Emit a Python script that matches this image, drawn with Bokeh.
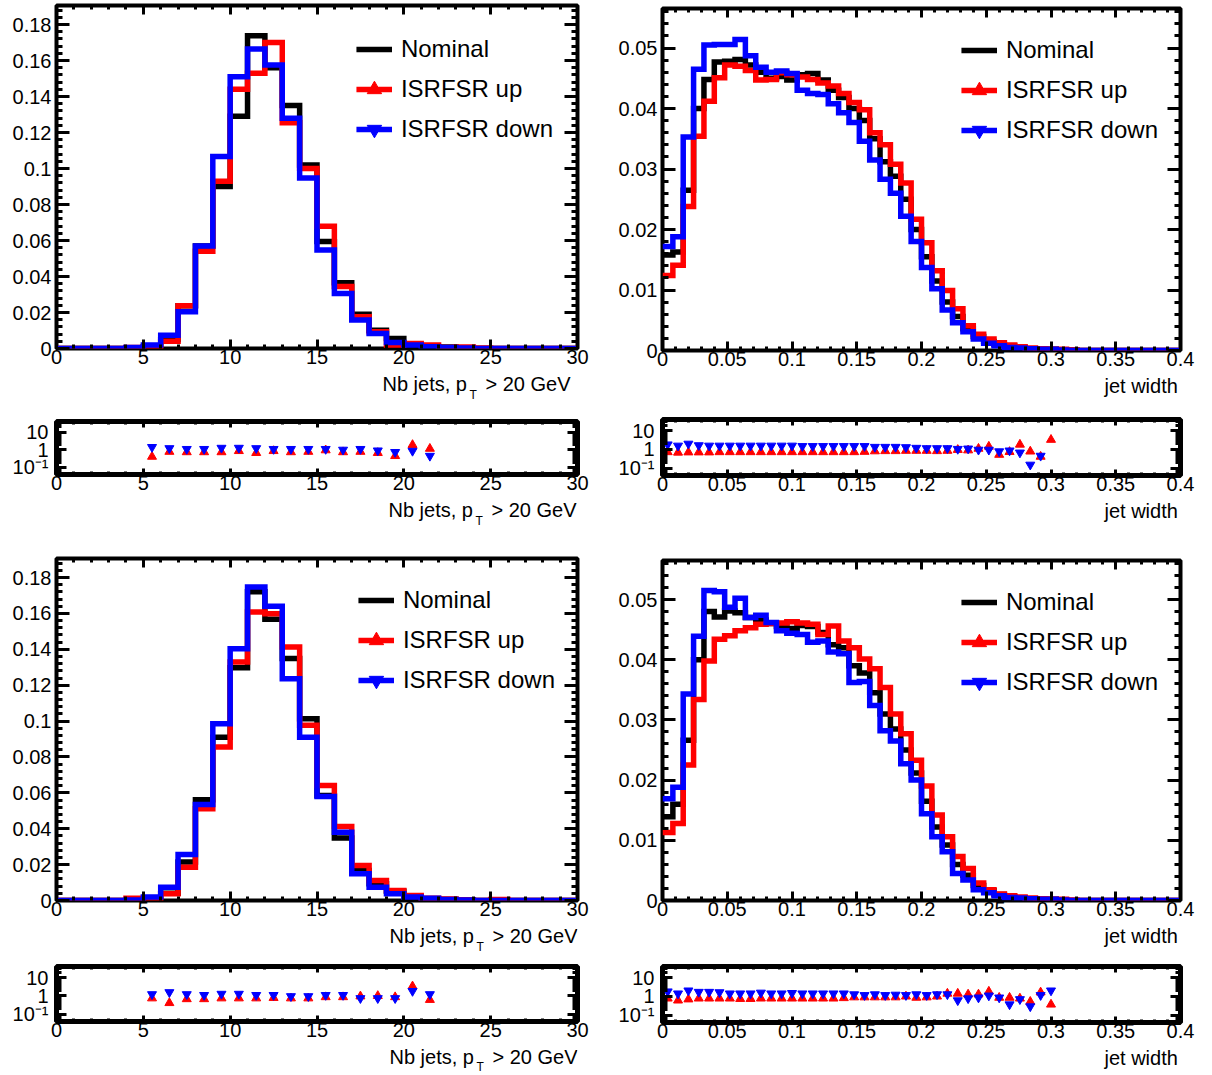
import math
from bokeh.plotting import figure
from bokeh.models import Range1d, FixedTicker, LinearAxis, LogAxis, Legend, LegendItem, Label
from bokeh.layouts import column, row
from bokeh.embed import file_html
from bokeh.resources import INLINE

# ---------------- data ----------------
nb_edges = list(range(0, 31))
width_edges = [round(i * 0.008, 3) for i in range(51)]

# top-left: number of jets
tl_nominal = [0, 0, 0, 0, 0.0003, 0.0010, 0.0050, 0.0238, 0.0570, 0.0900, 0.1290, 0.1738, 0.1560, 0.1350, 0.1019,
              0.0595, 0.0366, 0.0190, 0.0102, 0.0056, 0.0019, 0.0010, 0.0008, 0.0003, 0, 0, 0, 0, 0, 0]
tl_up = [0, 0, 0, 0, 0.0005, 0.0008, 0.0040, 0.0238, 0.0540, 0.0930, 0.1440, 0.1530, 0.1700, 0.1255, 0.1000,
         0.0680, 0.0344, 0.0177, 0.0093, 0.0019, 0.0028, 0.0020, 0.0005, 0.0008, 0.0003, 0, 0, 0, 0, 0]
tl_down = [0, 0, 0, 0, 0.0005, 0.0020, 0.0074, 0.0204, 0.0570, 0.1067, 0.1510, 0.1664, 0.1576, 0.1280, 0.0948,
           0.0548, 0.0305, 0.0158, 0.0084, 0.0033, 0.0020, 0.0010, 0.0005, 0.0003, 0, 0, 0, 0, 0, 0]

# top-right: jet width
tr_nominal = [0.0158, 0.0163, 0.0265, 0.0400, 0.0448, 0.0477, 0.0478, 0.0481, 0.0472, 0.0460,
              0.0450, 0.0453, 0.0447, 0.0456, 0.0458, 0.0447, 0.0430, 0.0418, 0.0400, 0.0380,
              0.0350, 0.0312, 0.0288, 0.0250, 0.0200, 0.0155, 0.0115, 0.0080, 0.0056, 0.0036,
              0.0023, 0.0015, 0.0010, 0.0007, 0.0005, 0.0003, 0.0002, 0.0002, 0.0001, 0.0001,
              0, 0, 0, 0, 0, 0, 0, 0, 0, 0]
tr_up = [0.0124, 0.0141, 0.0238, 0.0354, 0.0412, 0.0451, 0.0472, 0.0470, 0.0463, 0.0447,
         0.0448, 0.0459, 0.0456, 0.0452, 0.0448, 0.0442, 0.0437, 0.0425, 0.0410, 0.0398,
         0.0360, 0.0340, 0.0308, 0.0277, 0.0217, 0.0178, 0.0132, 0.0099, 0.0069, 0.0041,
         0.0027, 0.0019, 0.0013, 0.0009, 0.0006, 0.0004, 0.0003, 0.0002, 0.0002, 0.0001,
         0, 0, 0, 0, 0, 0, 0, 0, 0, 0]
tr_down = [0.0172, 0.0188, 0.0353, 0.0465, 0.0505, 0.0506, 0.0506, 0.0514, 0.0487, 0.0468,
           0.0460, 0.0462, 0.0458, 0.0430, 0.0425, 0.0423, 0.0408, 0.0393, 0.0377, 0.0346,
           0.0315, 0.0283, 0.0260, 0.0222, 0.0180, 0.0137, 0.0102, 0.0067, 0.0046, 0.0031,
           0.0019, 0.0012, 0.0008, 0.0005, 0.0004, 0.0003, 0.0002, 0.0002, 0.0001, 0,
           0, 0, 0, 0, 0, 0, 0, 0, 0, 0]

# bottom-left: number of jets
bl_nominal = [0, 0, 0, 0, 0.0002, 0.0005, 0.0040, 0.0214, 0.0561, 0.0910, 0.1297, 0.1720, 0.1567, 0.1348, 0.1013,
              0.0585, 0.0349, 0.0167, 0.0093, 0.0052, 0.0019, 0.0010, 0.0005, 0.0002, 0, 0, 0, 0, 0, 0]
bl_up = [0, 0, 0, 0, 0.0013, 0.0008, 0.0037, 0.0186, 0.0511, 0.0855, 0.1329, 0.1608, 0.1598, 0.1413, 0.0976,
         0.0641, 0.0413, 0.0195, 0.0112, 0.0056, 0.0028, 0.0013, 0.0008, 0.0004, 0, 0.0005, 0, 0, 0, 0]
bl_down = [0, 0, 0, 0, 0.0003, 0.0020, 0.0074, 0.0257, 0.0535, 0.0985, 0.1403, 0.1747, 0.1640, 0.1236, 0.0910,
           0.0580, 0.0381, 0.0149, 0.0074, 0.0037, 0.0019, 0.0012, 0.0006, 0.0003, 0, 0, 0, 0, 0, 0]

# bottom-right: jet width
br_nominal = [0.0139, 0.0160, 0.0266, 0.0400, 0.0480, 0.0471, 0.0481, 0.0478, 0.0470, 0.0466,
              0.0460, 0.0455, 0.0452, 0.0457, 0.0455, 0.0445, 0.0425, 0.0420, 0.0390, 0.0378,
              0.0345, 0.0310, 0.0285, 0.0250, 0.0212, 0.0165, 0.0122, 0.0092, 0.0060, 0.0042,
              0.0025, 0.0016, 0.0010, 0.0006, 0.0004, 0.0003, 0.0002, 0.0002, 0.0001, 0,
              0, 0, 0, 0, 0, 0, 0, 0, 0, 0]
br_up = [0.0113, 0.0128, 0.0225, 0.0334, 0.0398, 0.0434, 0.0440, 0.0448, 0.0453, 0.0459,
         0.0460, 0.0461, 0.0463, 0.0461, 0.0459, 0.0442, 0.0456, 0.0431, 0.0420, 0.0401,
         0.0385, 0.0354, 0.0310, 0.0277, 0.0233, 0.0190, 0.0142, 0.0106, 0.0073, 0.0053,
         0.0029, 0.0018, 0.0011, 0.0008, 0.0006, 0.0004, 0.0003, 0.0002, 0.0002, 0.0001,
         0, 0, 0, 0, 0, 0, 0, 0, 0, 0]
br_down = [0.0169, 0.0188, 0.0343, 0.0439, 0.0515, 0.0513, 0.0487, 0.0502, 0.0470, 0.0474,
           0.0462, 0.0448, 0.0444, 0.0442, 0.0429, 0.0431, 0.0413, 0.0410, 0.0362, 0.0364,
           0.0324, 0.0282, 0.0265, 0.0227, 0.0200, 0.0144, 0.0106, 0.0081, 0.0045, 0.0034,
           0.0018, 0.0013, 0.0008, 0.0005, 0.0004, 0.0003, 0.0002, 0.0002, 0.0001, 0,
           0, 0, 0, 0, 0, 0, 0, 0, 0, 0]

# ratio panels
nb_ratio_x = [5.5, 6.5, 7.5, 8.5, 9.5, 10.5, 11.5, 12.5, 13.5, 14.5, 15.5, 16.5, 17.5, 18.5, 19.5, 20.5, 21.5]
tl_ratio_up = [0.41, 0.78, 0.74, 0.74, 0.74, 0.86, 0.67, 0.86, 0.74, 0.78, 0.95, 0.74, 0.78, 0.67, 0.45, 1.9, 1.16]
tl_ratio_down = [1.42, 1.22, 1.10, 1.10, 1.28, 1.28, 1.22, 1.10, 1.10, 1.10, 1.10, 1.0, 1.10, 0.905, 0.74, 0.86, 0.45]
bl_ratio_up = [0.74, 0.41, 0.67, 0.67, 0.74, 0.74, 0.74, 0.78, 0.74, 0.74, 0.86, 0.86, 0.95, 1.0, 0.86, 3.33, 0.61]
bl_ratio_down = [1.22, 1.57, 1.22, 1.10, 1.28, 1.28, 1.10, 1.10, 0.95, 0.95, 1.10, 1.10, 0.74, 0.74, 0.74, 1.82, 1.22]

width_ratio_x = [0.004, 0.012, 0.020, 0.028, 0.036, 0.044, 0.052, 0.060, 0.068, 0.076,
                 0.084, 0.092, 0.100, 0.108, 0.116, 0.124, 0.132, 0.140, 0.148, 0.156,
                 0.164, 0.172, 0.180, 0.188, 0.196, 0.204, 0.212, 0.220, 0.228, 0.236,
                 0.244, 0.252, 0.260, 0.268, 0.276, 0.284, 0.292, 0.300]
tr_ratio_up = [0.72, 0.68, 0.70, 0.70, 0.70, 0.72, 0.72, 0.72, 0.72, 0.72,
               0.72, 0.72, 0.72, 0.72, 0.72, 0.72, 0.72, 0.72, 0.72, 0.75,
               0.80, 0.82, 0.82, 0.85, 0.85, 0.85, 0.82, 0.85, 0.95, 0.90,
               1.10, 1.42, 0.52, 0.74, 1.82, 0.78, 0.41, 3.3]
tr_ratio_down = [1.82, 1.57, 2.0, 1.65, 1.57, 1.57, 1.57, 1.57, 1.57, 1.57,
                 1.57, 1.57, 1.57, 1.49, 1.49, 1.49, 1.49, 1.49, 1.49, 1.49,
                 1.35, 1.35, 1.35, 1.30, 1.20, 1.15, 1.15, 1.15, 1.05, 1.10,
                 0.95, 0.95, 0.78, 0.86, 0.67, 0.15, 0.45]
br_ratio_up = [0.78, 0.61, 0.70, 0.78, 0.78, 0.78, 0.78, 0.74, 0.74, 0.78,
               0.78, 0.78, 0.78, 0.78, 0.78, 0.78, 0.78, 0.82, 0.90, 0.90,
               0.90, 0.90, 0.90, 1.0, 0.86, 0.90, 1.0, 1.42, 1.42, 1.28,
               1.28, 1.82, 0.86, 0.86, 0.78, 0.52, 1.65, 0.37]
br_ratio_down = [1.82, 1.42, 2.05, 1.73, 1.73, 1.65, 1.42, 1.42, 1.42, 1.57,
                 1.42, 1.42, 1.50, 1.42, 1.42, 1.42, 1.42, 1.42, 1.28, 1.16,
                 1.28, 1.16, 1.22, 1.16, 1.28, 1.16, 1.28, 1.28, 0.61, 0.78,
                 0.86, 1.10, 0.86, 0.37, 0.70, 0.29, 1.16, 2.05]

# ticks and labels
nb_x_ticks = [0, 5, 10, 15, 20, 25, 30]
nb_x_labels = ["0", "5", "10", "15", "20", "25", "30"]
width_x_ticks = [0, 0.05, 0.1, 0.15, 0.2, 0.25, 0.3, 0.35, 0.4]
width_x_labels = ["0", "0.05", "0.1", "0.15", "0.2", "0.25", "0.3", "0.35", "0.4"]
nb_y_ticks = [0, 0.02, 0.04, 0.06, 0.08, 0.1, 0.12, 0.14, 0.16, 0.18]
nb_y_labels = ["0", "0.02", "0.04", "0.06", "0.08", "0.1", "0.12", "0.14", "0.16", "0.18"]
width_y_ticks = [0, 0.01, 0.02, 0.03, 0.04, 0.05]
width_y_labels = ["0", "0.01", "0.02", "0.03", "0.04", "0.05"]
ratio_y_ticks = [0.1, 1, 10]
ratio_y_labels = ["10\u207b\u00b9", "1", "10"]

legend_labels = ["Nominal", "ISRFSR up", "ISRFSR down"]
nb_title = ["Nb jets, p", "T", "> 20 GeV"]
width_title = "jet width"

# minor tick positions (styling)
nb_x_minor = list(range(0, 31))
width_x_minor = [round(i * 0.01, 2) for i in range(41)]
nb_y_minor = [round(i * 0.004, 3) for i in range(48)]
width_y_minor = [round(i * 0.002, 3) for i in range(29)]
ratio_minor = [k * 10.0 ** e for e in (-2, -1, 0, 1) for k in range(2, 10)]

FONT = "Liberation Sans"
RED = "#ff0000"
BLUE = "#0000ff"
BLACK = "#000000"

# column geometry: every plot in a column shares the same side borders
LW, RW = 606, 604
L_LEFT, L_RIGHT = 56, 29      # left column frame: x 56 .. 577
R_LEFT, R_RIGHT = 56, 30      # right column frame: x 606+56 .. 606+574


def base_fig(W, H, bl, br, bt, bb, xr, yr, y_log=False):
    p = figure(width=W, height=H, x_range=Range1d(*xr), y_range=Range1d(*yr),
               y_axis_type="log" if y_log else "linear",
               output_backend="svg", toolbar_location=None, tools="",
               min_border_left=bl, min_border_right=br, min_border_top=bt, min_border_bottom=bb)
    p.xgrid.visible = False
    p.ygrid.visible = False
    p.outline_line_color = "black"
    p.outline_line_width = 4
    p.background_fill_color = "white"
    p.border_fill_color = "white"
    return p


def setup_axes(p, xt, xl, xmin, yt, yl, ymin, x_len, y_len, y_log, xstand, ystand):
    xtick = FixedTicker(ticks=xt, minor_ticks=xmin)
    ytick = FixedTicker(ticks=yt, minor_ticks=ymin)
    bottom = p.below[0]
    left = p.left[0]
    top = LinearAxis()
    right = LogAxis() if y_log else LinearAxis()
    p.add_layout(top, "above")
    p.add_layout(right, "right")
    specs = [(bottom, xtick, dict(zip(xt, xl)), x_len, True, xstand),
             (top, xtick, None, x_len, False, 0),
             (left, ytick, dict(zip(yt, yl)), y_len, True, ystand),
             (right, ytick, None, y_len, False, 0)]
    for ax, tk, ov, (mj, mn), shown, so in specs:
        ax.ticker = tk
        ax.axis_label = None
        ax.axis_line_color = None
        ax.major_tick_in = mj
        ax.major_tick_out = 0
        ax.minor_tick_in = mn
        ax.minor_tick_out = 0
        ax.major_tick_line_width = 3
        ax.minor_tick_line_width = 3
        ax.major_tick_line_color = "black"
        ax.minor_tick_line_color = "black"
        ax.major_label_standoff = so
        if shown:
            ax.major_label_overrides = ov
            ax.major_label_text_font = FONT
            ax.major_label_text_color = "black"
            ax.major_label_text_font_size = "20px"
        else:
            ax.major_label_text_color = None
            ax.major_label_text_font_size = "1px"


def main_panel(kind, nom, up, down, W, H, bl, br, bt, bb, y_end, margin=22):
    edges = nb_edges if kind == "nb" else width_edges
    x_end = 30 if kind == "nb" else 0.4
    p = base_fig(W, H, bl, br, bt, bb, (0, x_end), (0, y_end))
    if kind == "nb":
        setup_axes(p, nb_x_ticks, nb_x_labels, nb_x_minor, nb_y_ticks, nb_y_labels, nb_y_minor,
                   (9, 4), (13, 6), False, 1, 5)
    else:
        setup_axes(p, width_x_ticks, width_x_labels, width_x_minor, width_y_ticks, width_y_labels,
                   width_y_minor, (9, 4), (13, 6), False, 1, 5)
    rs = []
    for vals, col in ((nom, BLACK), (up, RED), (down, BLUE)):
        rs.append(p.step(x=edges, y=list(vals) + [vals[-1]], mode="after", line_color=col,
                         line_width=5.5, line_join="miter"))
    m_up = p.scatter(x=[math.nan], y=[math.nan], marker="triangle", size=14, color=RED)
    m_dn = p.scatter(x=[math.nan], y=[math.nan], marker="inverted_triangle", size=14, color=BLUE)
    legend = Legend(items=[LegendItem(label=legend_labels[0], renderers=[rs[0]]),
                           LegendItem(label=legend_labels[1], renderers=[rs[1], m_up]),
                           LegendItem(label=legend_labels[2], renderers=[rs[2], m_dn])],
                    location="top_right", margin=margin, padding=0, spacing=-3,
                    glyph_width=36, glyph_height=40, label_height=40, label_standoff=9,
                    label_text_font=FONT, label_text_font_size="24px", label_text_color="black",
                    border_line_color=None, background_fill_alpha=0)
    p.add_layout(legend)
    return p


def ratio_panel(kind, xs_up, r_up, xs_dn, r_dn, W, H, bl, br, bt, bb):
    x_end = 30 if kind == "nb" else 0.4
    p = base_fig(W, H, bl, br, bt, bb, (0, x_end), (0.04, 40), y_log=True)
    p.outline_line_width = 5
    if kind == "nb":
        setup_axes(p, nb_x_ticks, nb_x_labels, nb_x_minor, ratio_y_ticks, ratio_y_labels, ratio_minor,
                   (6, 3), (10, 5), True, 1, 8)
    else:
        setup_axes(p, width_x_ticks, width_x_labels, width_x_minor, ratio_y_ticks, ratio_y_labels,
                   ratio_minor, (6, 3), (10, 5), True, 1, 8)
    p.scatter(x=xs_up, y=r_up, marker="triangle", size=9, color=RED)
    p.scatter(x=xs_dn, y=r_dn, marker="inverted_triangle", size=9, color=BLUE)
    return p


def title_fig(W, H, bl, br, parts):
    """A strip that carries an x-axis title; x given in column pixels, converted to frame pixels."""
    p = figure(width=W, height=H, x_range=Range1d(0, W - bl - br), y_range=Range1d(0, H),
               x_axis_location=None, y_axis_location=None, output_backend="svg",
               toolbar_location=None, tools="",
               min_border_left=bl, min_border_right=br, min_border_top=0, min_border_bottom=0)
    p.grid.visible = False
    p.outline_line_color = None
    p.background_fill_color = "white"
    p.border_fill_color = "white"
    for text, x_left, size, from_top in parts:
        p.add_layout(Label(x=x_left - bl, y=H - from_top, x_units="screen", text=text,
                           text_align="left", text_baseline="middle", text_font=FONT,
                           text_font_size=size, text_color="black"))
    return p


def nb_title_fig(H, right, from_top, sub_drop=10.5):
    return title_fig(LW, H, L_LEFT, L_RIGHT,
                     [(nb_title[0], right - 186, "20px", from_top),
                      (nb_title[1], right - 99, "12px", from_top + sub_drop),
                      (nb_title[2], right - 83, "20px", from_top)])


def width_title_fig(H, right, from_top):
    return title_fig(RW, H, R_LEFT, R_RIGHT, [(width_title, right - 74, "20px", from_top)])


left_col = column(
    main_panel("nb", tl_nominal, tl_up, tl_down, LW, 372, L_LEFT, L_RIGHT, 5, 24, 0.1906, 24),
    nb_title_fig(30, 568, 11.5),
    ratio_panel("nb", nb_ratio_x, tl_ratio_up, nb_ratio_x, tl_ratio_down, LW, 96, L_LEFT, L_RIGHT, 19, 24),
    nb_title_fig(50, 574, 11.5),
    main_panel("nb", bl_nominal, bl_up, bl_down, LW, 376, L_LEFT, L_RIGHT, 10, 24, 0.1906),
    nb_title_fig(30, 575, 11.5),
    ratio_panel("nb", nb_ratio_x, bl_ratio_up, nb_ratio_x, bl_ratio_down, LW, 91, L_LEFT, L_RIGHT, 12, 24),
    nb_title_fig(29, 575, 11.5, 10),
)

right_col = column(
    main_panel("w", tr_nominal, tr_up, tr_down, RW, 374, R_LEFT, R_RIGHT, 8, 24, 0.05653),
    width_title_fig(26, 572, 11.5),
    ratio_panel("w", width_ratio_x, tr_ratio_up, width_ratio_x[:37], tr_ratio_down, RW, 99, R_LEFT, R_RIGHT, 19, 24),
    width_title_fig(49, 572, 11.5),
    main_panel("w", br_nominal, br_up, br_down, RW, 376, R_LEFT, R_RIGHT, 12, 24, 0.05648),
    width_title_fig(30, 572, 11.5),
    ratio_panel("w", width_ratio_x, br_ratio_up, width_ratio_x, br_ratio_down, RW, 92, R_LEFT, R_RIGHT, 12, 24),
    width_title_fig(28, 572, 11.5),
)

layout = row(left_col, right_col)

open("out.html", "w").write(file_html(layout, INLINE))
